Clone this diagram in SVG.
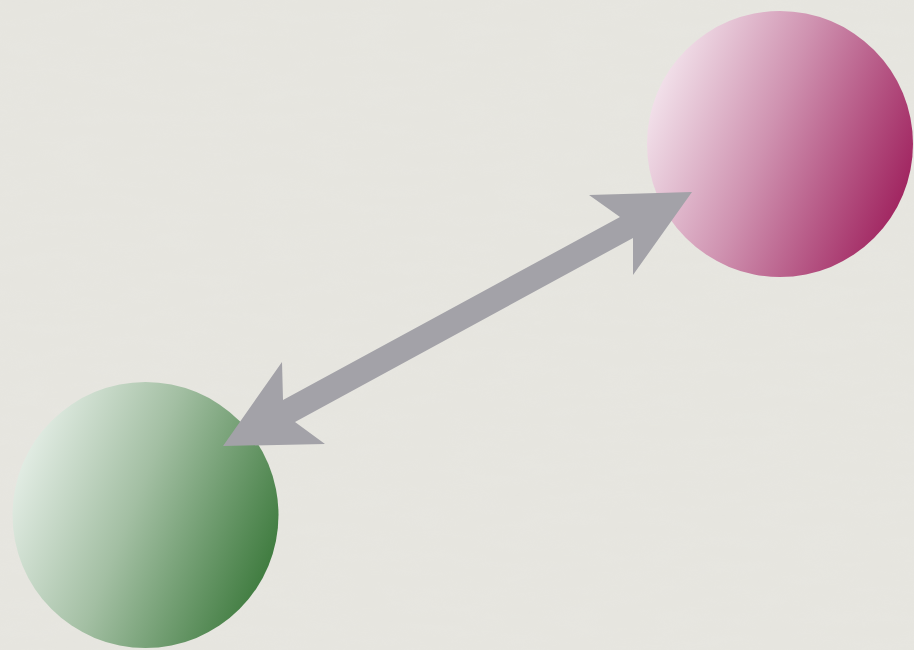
<svg xmlns="http://www.w3.org/2000/svg" width="914" height="650" viewBox="0 0 914 650">
  <defs>
    <linearGradient id="gPink" x1="0" y1="0.3" x2="1" y2="0.7">
      <stop offset="0" stop-color="#f4e6ee"/>
      <stop offset="0.45" stop-color="#cf92b0"/>
      <stop offset="1" stop-color="#9e1f5c"/>
    </linearGradient>
    <linearGradient id="gGreen" x1="0" y1="0.3" x2="1" y2="0.7">
      <stop offset="0" stop-color="#e6efe8"/>
      <stop offset="0.45" stop-color="#a3bfa3"/>
      <stop offset="1" stop-color="#3a783a"/>
    </linearGradient>
    <filter id="paper" x="0" y="0" width="100%" height="100%">
      <feTurbulence type="fractalNoise" baseFrequency="0.02 0.08" numOctaves="3" seed="4" result="n"/>
      <feColorMatrix in="n" type="matrix" values="0 0 0 0 0.85  0 0 0 0 0.85  0 0 0 0 0.82  0 0 0 0.5 -0.1"/>
    </filter>
    <style>
      .node { stroke: none; }
      .conn { fill: #a3a2a8; stroke: none; }
    </style>
  </defs>
  <rect width="914" height="650" fill="#e6e5df"/>
  <rect width="914" height="650" filter="url(#paper)" opacity="0.35"/>
  <g id="node-pink">
    <circle class="node" cx="780" cy="144" r="133" fill="url(#gPink)"/>
  </g>
  <g id="node-green">
    <circle class="node" cx="145.5" cy="515" r="133" fill="url(#gGreen)"/>
  </g>
  <g id="connectors">
    <polygon class="conn" points="692,192 633,275 633,238 295,422 325,444 223,446 282,362 283,400 620,217 589,195"/>
  </g>
</svg>
